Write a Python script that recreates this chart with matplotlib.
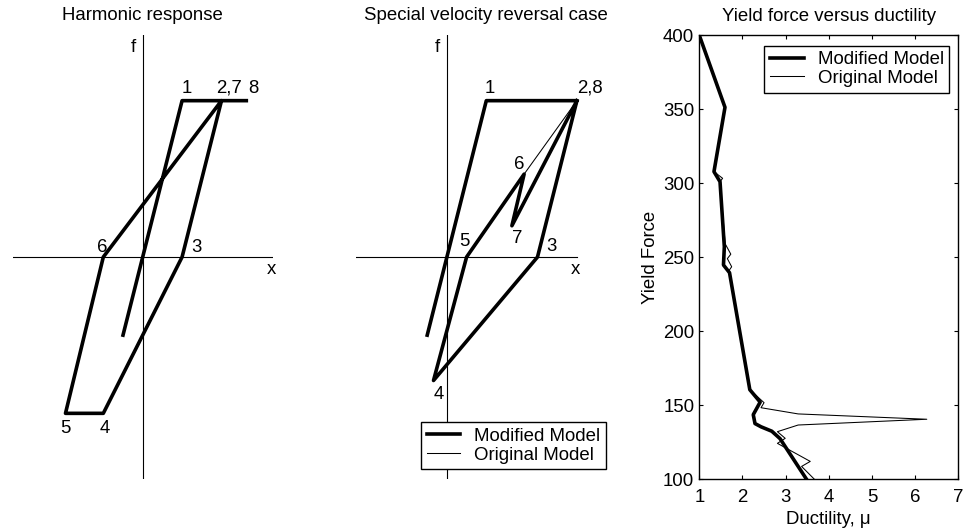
import matplotlib
matplotlib.use("Agg")
import matplotlib.pyplot as plt

plt.rcParams['font.family'] = ['Liberation Sans', 'DejaVu Sans']
plt.rcParams['font.size'] = 13.4

# harmonic response path, x and f normalised by yield values
harm_x = [-0.5, 1.0, 2.0, 1.0, -1.0, -1.96, -1.0, 2.0, 2.63]
harm_f = [-0.5, 1.0, 1.0, 0.0, -1.0, -1.0, 0.0, 1.0, 1.0]
harm_tags = ['1', '2,7', '8', '3', '6', '5', '4']
harm_tag_x = [1.11, 2.18, 2.82, 1.36, -1.03, -1.96, -0.96]
harm_tag_f = [1.08, 1.08, 1.08, 0.06, 0.06, -1.10, -1.10]

# special velocity reversal case
orig_x = [-0.5, 1.0, 3.3, 2.3, -0.34, 0.5, 1.96, 3.3]
orig_f = [-0.5, 1.0, 1.0, 0.0, -0.79, 0.0, 0.53, 1.0]
mod_x = [-0.5, 1.0, 3.3, 2.3, -0.34, 0.5, 1.96, 1.65, 3.3]
mod_f = [-0.5, 1.0, 1.0, 0.0, -0.79, 0.0, 0.53, 0.2, 1.0]
rev_tags = ['1', '2,8', '6', '7', '5', '3', '4']
rev_tag_x = [1.10, 3.62, 1.84, 1.79, 0.44, 2.66, -0.21]
rev_tag_f = [1.08, 1.08, 0.59, 0.12, 0.10, 0.07, -0.88]

# yield force versus ductility
mod_mu = [1.0, 1.595, 1.34, 1.48, 1.58, 1.56, 1.70, 2.17, 2.41, 2.25, 2.29,
          2.43, 2.68, 2.87, 3.48]
mod_fy = [400, 351.3, 307.8, 301, 257, 244.7, 239.5, 160.4, 152, 143.5, 137.5,
          135.3, 132.3, 127.3, 100]
orig_mu = [1.0, 1.595, 1.34, 1.54, 1.48, 1.60, 1.73, 1.65, 1.75, 1.69, 2.17,
           2.50, 2.43, 3.29, 6.27, 3.29, 2.81, 2.99, 2.81, 3.57, 3.37, 3.66]
orig_fy = [400, 351.3, 307.8, 303.3, 301, 259, 252, 249, 243.5, 241, 160.4,
           151.6, 148.2, 144.0, 140.4, 136.5, 132.0, 127.5, 124.1, 111.9, 108.5, 100]

W, H = 965, 531
fig = plt.figure(figsize=(W / 100, H / 100), dpi=100)


def px_axes(left, top, width, height):
    return fig.add_axes([left / W, 1 - (top + height) / H, width / W, height / H])


thick = 2.6
thin = 0.75
title_pad = 10.5

# --- harmonic response ---
ax1 = px_axes(12.7, 35, 260, 444)
ax1.plot([-3.3, 3.3], [0, 0], color='black', lw=0.8)
ax1.plot([0, 0], [-1.42, 1.42], color='black', lw=0.8)
ax1.plot(harm_x, harm_f, color='black', lw=thick)
for t, x, f in zip(harm_tags, harm_tag_x, harm_tag_f):
    ax1.text(x, f, t, ha='center', va='center')
ax1.text(3.26, -0.08, 'x', ha='center', va='center')
ax1.text(-0.24, 1.34, 'f', ha='center', va='center')
ax1.set_xlim(-3.3, 3.3)
ax1.set_ylim(-1.42, 1.42)
ax1.axis('off')
ax1.set_title('Harmonic response', fontsize=13.4, pad=title_pad)

# --- special velocity reversal case ---
ax2 = px_axes(356.3, 35, 260, 444)
ax2.plot([-2.3, 3.3], [0, 0], color='black', lw=0.8)
ax2.plot([0, 0], [-1.42, 1.42], color='black', lw=0.8)
l_orig, = ax2.plot(orig_x, orig_f, color='black', lw=thin)
l_mod, = ax2.plot(mod_x, mod_f, color='black', lw=thick)
for t, x, f in zip(rev_tags, rev_tag_x, rev_tag_f):
    ax2.text(x, f, t, ha='center', va='center')
ax2.text(3.26, -0.08, 'x', ha='center', va='center')
ax2.text(-0.24, 1.34, 'f', ha='center', va='center')
ax2.set_xlim(-2.3, 4.3)
ax2.set_ylim(-1.42, 1.42)
ax2.axis('off')
ax2.set_title('Special velocity reversal case', fontsize=13.4, pad=title_pad)

leg_kw = dict(loc='upper right', borderaxespad=0, fancybox=False, framealpha=1,
              edgecolor='black', handlelength=1.8, handletextpad=0.75,
              labelspacing=0.1, borderpad=0.3, fontsize=13.4)
leg2 = ax2.legend([l_mod, l_orig], ['Modified Model', 'Original Model'],
                  bbox_to_anchor=(0.960, 0.1275), **leg_kw)
leg2.get_frame().set_linewidth(1.0)

# --- yield force versus ductility ---
ax3 = px_axes(699.3, 35.3, 259, 443.7)
o_line, = ax3.plot(orig_mu, orig_fy, color='black', lw=thin)
m_line, = ax3.plot(mod_mu, mod_fy, color='black', lw=thick)
ax3.set_xlim(1, 7)
ax3.set_ylim(100, 400)
ax3.set_xticks(range(1, 8))
ax3.set_yticks(range(100, 401, 50))
ax3.tick_params(direction='in', length=3.1, width=0.8, top=True, right=True,
                labelsize=13.4)
ax3.tick_params(axis='x', pad=7.5)
ax3.tick_params(axis='y', pad=3.6)
for s in ax3.spines.values():
    s.set_linewidth(1.0)
ax3.set_xlabel('Ductility, μ', labelpad=3)
ax3.set_ylabel('Yield Force', labelpad=3)
ax3.set_title('Yield force versus ductility', fontsize=13.4, pad=title_pad)
leg3 = ax3.legend([m_line, o_line], ['Modified Model', 'Original Model'],
                  bbox_to_anchor=(0.965, 0.977), **leg_kw)
leg3.get_frame().set_linewidth(1.0)

fig.savefig('out.png', dpi=100)
